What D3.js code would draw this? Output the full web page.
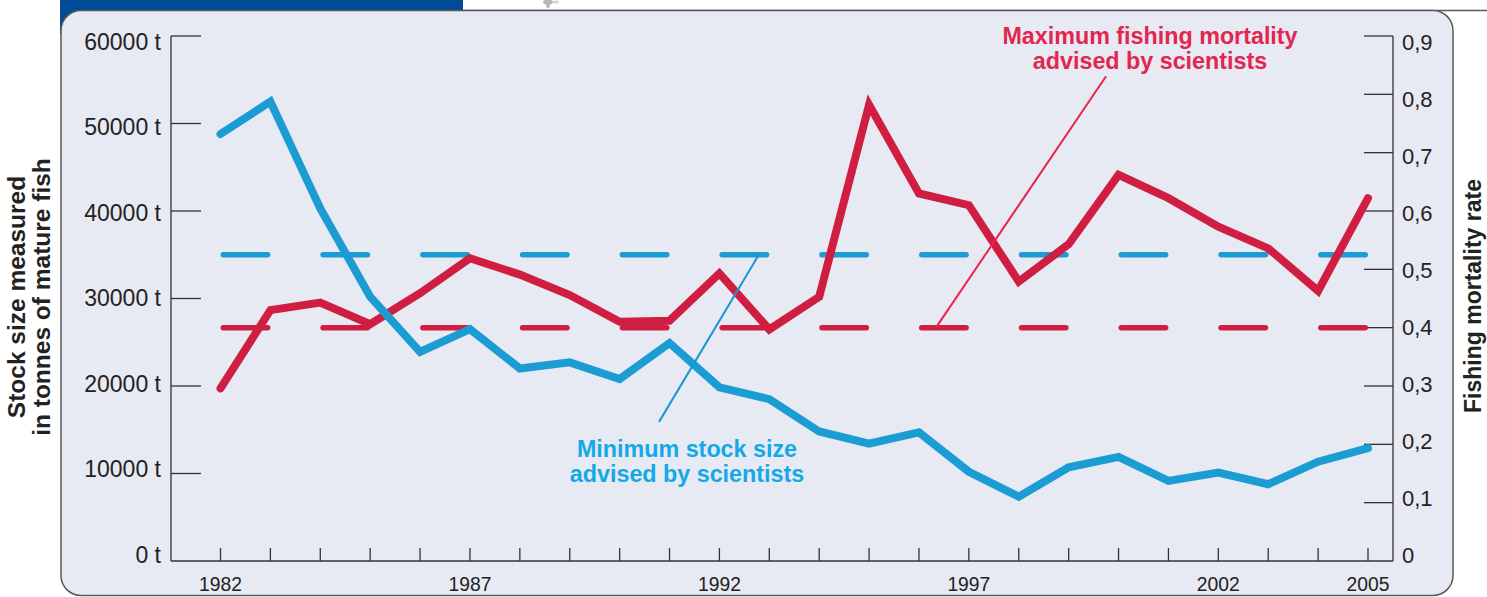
<!DOCTYPE html>
<html>
<head>
<meta charset="utf-8">
<script src="https://cdn.jsdelivr.net/npm/d3@7"></script>
<style>
  html, body { margin: 0; padding: 0; background: #ffffff; }
  svg { display: block; }
  text { font-family: "Liberation Sans", Arial, Helvetica, sans-serif; }
</style>
</head>
<body>
<svg id="chart" width="1487" height="597"></svg>
<script>
// ---------- DATA ----------
const years = [1982,1983,1984,1985,1986,1987,1988,1989,1990,1991,1992,1993,
               1994,1995,1996,1997,1998,1999,2000,2001,2002,2003,2004,2005];
const stockSize = [48800,52500,40300,30200,23900,26500,22000,22700,20800,24900,19850,18500,
                   14800,13400,14700,10200,7350,10700,11900,9150,10100,8770,11350,12900];
const fishingMortality = [0.296,0.430,0.443,0.406,0.459,0.519,0.491,0.456,0.410,0.412,0.493,0.397,
                          0.453,0.782,0.630,0.610,0.479,0.543,0.662,0.622,0.573,0.536,0.463,0.622];
const minStockAdvised = 35000;
const maxMortalityAdvised = 0.4;
const leftTicks = [0,10000,20000,30000,40000,50000,60000];
const leftTickLabels = ["0 t","10000 t","20000 t","30000 t","40000 t","50000 t","60000 t"];
const rightTicks = [0,0.1,0.2,0.3,0.4,0.5,0.6,0.7,0.8,0.9];
const rightTickLabels = ["0","0,1","0,2","0,3","0,4","0,5","0,6","0,7","0,8","0,9"];
const yearLabels = [1982,1987,1992,1997,2002,2005];
const leftTitle = ["Stock size measured","in tonnes of mature fish"];
const rightTitle = "Fishing mortality rate";
const blueNote = ["Minimum stock size","advised by scientists"];
const redNote = ["Maximum fishing mortality","advised by scientists"];
// pointer lines in data coordinates: [year, value]
const bluePointer = [[1990.79, 15900],[1992.79, 35000]];
const redPointer = [[1996.34, 0.4],[1999.75, 0.831]];

// ---------- STYLE ----------
const C = {
  bg: "#e7e9f3", frame: "#5a5a5a", tab: "#004b93",
  blue: "#1b9cd3", red: "#d01e42",
  blueText: "#12a9e6", redText: "#e2264f", redPointer: "#e8254d",
  axis: "#333", text: "#222"
};

const svg = d3.select("#chart");

// scales
const x = d3.scaleLinear().domain([1982, 2005]).range([220.5, 1368]);
const yL = d3.scaleLinear().domain([0, 60000]).range([561, 36]);
const yR = d3.scaleLinear().domain([0, 0.9]).range([561, 36]);
const yLlab = d3.scaleLinear().domain([0, 60000]).range([563, 49.5]);
const yRlab = d3.scaleLinear().domain([0, 0.9]).range([563, 50]);

const axisLeftX = 171, axisRightX = 1393, axisBottomY = 561;

// blue tab and frame
svg.append("rect").attr("x", 60).attr("y", 0).attr("width", 403).attr("height", 34).attr("fill", C.tab);
svg.append("path")
  .attr("d", "M463,10.5 L1487,10.5")
  .attr("stroke", C.frame).attr("stroke-width", 1.5);
svg.append("rect")
  .attr("x", 61).attr("y", 10.5).attr("width", 1392).attr("height", 585)
  .attr("rx", 20).attr("ry", 20)
  .attr("fill", C.bg).attr("stroke", C.frame).attr("stroke-width", 1.5);

// little icon fragment at top
const icon = svg.append("g").attr("fill", "#9a9a9a").attr("opacity", 0.7);
icon.append("ellipse").attr("cx", 548).attr("cy", 2).attr("rx", 5).attr("ry", 3);
icon.append("ellipse").attr("cx", 548).attr("cy", 6).attr("rx", 2).attr("ry", 2);
icon.append("ellipse").attr("cx", 556).attr("cy", 2).attr("rx", 3).attr("ry", 1.5).attr("fill", "#c4c4c4");

// axes lines
const ax = svg.append("g").attr("stroke", C.axis).attr("stroke-width", 1.3).attr("fill", "none");
ax.append("line").attr("x1", axisLeftX).attr("x2", axisLeftX).attr("y1", yL(60000)).attr("y2", axisBottomY);
ax.append("line").attr("x1", axisRightX).attr("x2", axisRightX).attr("y1", yR(0.9)).attr("y2", axisBottomY);
ax.append("line").attr("x1", axisLeftX).attr("x2", axisRightX).attr("y1", axisBottomY).attr("y2", axisBottomY);

// left ticks
ax.selectAll(".lt").data(leftTicks.filter(d => d > 0)).enter().append("line")
  .attr("x1", axisLeftX).attr("x2", axisLeftX + 30)
  .attr("y1", d => yL(d)).attr("y2", d => yL(d));
// right ticks
ax.selectAll(".rt").data(rightTicks.filter(d => d > 0)).enter().append("line")
  .attr("x1", axisRightX - 29).attr("x2", axisRightX)
  .attr("y1", d => yR(d)).attr("y2", d => yR(d));
// bottom ticks
ax.selectAll(".bt").data(years).enter().append("line")
  .attr("x1", d => x(d)).attr("x2", d => x(d))
  .attr("y1", axisBottomY - 13).attr("y2", axisBottomY);

// tick labels
svg.selectAll(".ltl").data(leftTicks).enter().append("text")
  .attr("x", 161).attr("y", d => yLlab(d))
  .attr("text-anchor", "end").attr("font-size", 23).attr("fill", C.text)
  .text((d, i) => leftTickLabels[i]);
svg.selectAll(".rtl").data(rightTicks).enter().append("text")
  .attr("x", 1402).attr("y", d => yRlab(d))
  .attr("text-anchor", "start").attr("font-size", 22).attr("fill", C.text)
  .text((d, i) => rightTickLabels[i]);
svg.selectAll(".btl").data(yearLabels).enter().append("text")
  .attr("x", d => x(d)).attr("y", 591)
  .attr("text-anchor", "middle").attr("font-size", 21).attr("fill", C.text)
  .attr("transform", d => `translate(${x(d)},0) scale(0.92,1) translate(${-x(d)},0)`)
  .text(d => d);

// axis titles
const lt = svg.append("text")
  .attr("transform", "translate(0,297) rotate(-90)")
  .attr("text-anchor", "middle").attr("font-size", 24.5).attr("font-weight", "bold").attr("fill", C.text);
lt.selectAll("tspan").data(leftTitle).enter().append("tspan")
  .attr("x", 0).attr("y", (d, i) => 25 + i * 25).text(d => d);
svg.append("text")
  .attr("transform", "translate(1481,296) rotate(-90)")
  .attr("text-anchor", "middle").attr("font-size", 23).attr("font-weight", "bold").attr("fill", C.text)
  .text(rightTitle);

// dashed reference lines (segments on even-year intervals)
const dashPairs = d3.range(0, years.length - 1, 2).map(i => [years[i], years[i + 1]]);
const dashW = 5.5;
svg.selectAll(".bdash").data(dashPairs).enter().append("line")
  .attr("x1", d => x(d[0]) + dashW / 2).attr("x2", d => x(d[1]) - dashW / 2)
  .attr("y1", yL(minStockAdvised)).attr("y2", yL(minStockAdvised))
  .attr("stroke", C.blue).attr("stroke-width", dashW).attr("stroke-linecap", "round");
svg.selectAll(".rdash").data(dashPairs).enter().append("line")
  .attr("x1", d => x(d[0]) + dashW / 2).attr("x2", d => x(d[1]) - dashW / 2)
  .attr("y1", yR(maxMortalityAdvised)).attr("y2", yR(maxMortalityAdvised))
  .attr("stroke", C.red).attr("stroke-width", dashW).attr("stroke-linecap", "round");

// main lines
const lineStock = d3.line().x((d, i) => x(years[i])).y(d => yL(d));
const lineMort = d3.line().x((d, i) => x(years[i])).y(d => yR(d));
svg.append("path").datum(fishingMortality).attr("d", lineMort)
  .attr("fill", "none").attr("stroke", C.red).attr("stroke-width", 8)
  .attr("stroke-linejoin", "miter").attr("stroke-miterlimit", 3).attr("stroke-linecap", "round");
svg.append("path").datum(stockSize).attr("d", lineStock)
  .attr("fill", "none").attr("stroke", C.blue).attr("stroke-width", 8)
  .attr("stroke-linejoin", "miter").attr("stroke-miterlimit", 3).attr("stroke-linecap", "round");

// pointer lines
svg.append("line")
  .attr("x1", x(bluePointer[0][0])).attr("y1", yL(bluePointer[0][1]))
  .attr("x2", x(bluePointer[1][0])).attr("y2", yL(bluePointer[1][1]))
  .attr("stroke", "#1a98d0").attr("stroke-width", 2);
svg.append("line")
  .attr("x1", x(redPointer[0][0])).attr("y1", yR(redPointer[0][1]))
  .attr("x2", x(redPointer[1][0])).attr("y2", yR(redPointer[1][1]))
  .attr("stroke", C.redPointer).attr("stroke-width", 2);

// annotation texts
const bt = svg.append("text").attr("text-anchor", "middle").attr("font-size", 23.3)
  .attr("font-weight", "bold").attr("fill", C.blueText);
bt.selectAll("tspan").data(blueNote).enter().append("tspan")
  .attr("x", 687).attr("y", (d, i) => 457 + i * 24.5).text(d => d);
const rt = svg.append("text").attr("text-anchor", "middle").attr("font-size", 23.3)
  .attr("font-weight", "bold").attr("fill", C.redText);
rt.selectAll("tspan").data(redNote).enter().append("tspan")
  .attr("x", 1150).attr("y", (d, i) => 44 + i * 24.5).text(d => d);
</script>
</body>
</html>
